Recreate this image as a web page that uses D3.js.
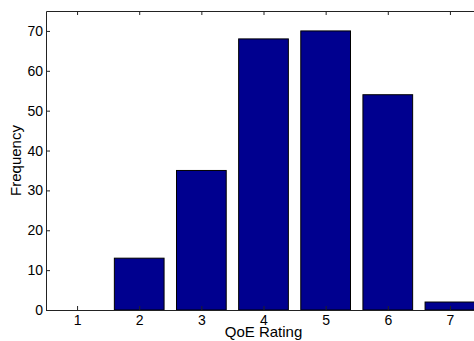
<!DOCTYPE html>
<html>
<head>
<meta charset="utf-8">
<script src="https://cdn.jsdelivr.net/npm/d3@7"></script>
<style>
  body { margin: 0; background: #fff; }
  text { font-family: "Liberation Sans", Arial, sans-serif; fill: #000; }
</style>
</head>
<body>
<script>
var ratings = [1, 2, 3, 4, 5, 6, 7];
var frequency = [0, 13, 35, 68, 70, 54, 2];
var yTicks = [0, 10, 20, 30, 40, 50, 60, 70];

var margin = { top: 11, right: -7, bottom: 31, left: 46 },
    W = 474, H = 341,
    width = W - margin.left - margin.right,
    height = H - margin.top - margin.bottom;

var barColor = "#00008f";

var svg = d3.select("body").append("svg")
    .attr("width", W)
    .attr("height", H);

var g = svg.append("g")
    .attr("transform", "translate(" + margin.left + "," + margin.top + ")");

var x = d3.scaleLinear().domain([0.5, 7.5]).range([0, width]);
var y = d3.scaleLinear().domain([0, 75]).range([height, 0]);

// bars, width 0.8 of a unit like matlab's bar()
g.selectAll(".bar")
    .data(ratings)
    .enter().append("rect")
    .attr("class", "bar")
    .attr("x", (d) => x(d - 0.4))
    .attr("width", x(1.8) - x(1))
    .attr("y", (d, i) => y(frequency[i]))
    .attr("height", (d, i) => height - y(frequency[i]))
    .style("fill", barColor)
    .style("stroke", "#000")
    .style("stroke-width", 1);

// bottom axis, ticks inward
var xAxis = d3.axisBottom(x).tickValues(ratings).tickFormat(d3.format("d"))
    .tickSize(-4).tickPadding(5).tickSizeOuter(0);
var xg = g.append("g")
    .attr("transform", "translate(0," + height + ")")
    .call(xAxis);

// top axis, ticks only
var xTop = d3.axisTop(x).tickValues(ratings).tickSize(-4).tickFormat("").tickSizeOuter(0);
var tg = g.append("g").call(xTop);

var yAxis = d3.axisLeft(y).tickValues(yTicks).tickFormat(d3.format("d"))
    .tickSize(-4).tickPadding(3).tickSizeOuter(0);
var yg = g.append("g").call(yAxis);

[xg, tg, yg].forEach(function (a) {
    a.selectAll(".domain").attr("stroke", "#222").attr("stroke-width", 1);
    a.selectAll(".tick line").attr("stroke", "#222");
    a.selectAll("text").style("font-size", "14px").attr("fill", "#000")
        .style("font-family", "'Liberation Sans', Arial, sans-serif");
});
xg.selectAll("text").attr("dy", "0.71em");

svg.append("text")
    .attr("x", margin.left + width / 2)
    .attr("y", 337)
    .attr("text-anchor", "middle")
    .style("font-size", "15px")
    .text("QoE Rating");

svg.append("text")
    .attr("transform", "translate(21," + (margin.top + height / 2) + ") rotate(-90)")
    .attr("text-anchor", "middle")
    .style("font-size", "15px")
    .text("Frequency");
</script>
</body>
</html>
